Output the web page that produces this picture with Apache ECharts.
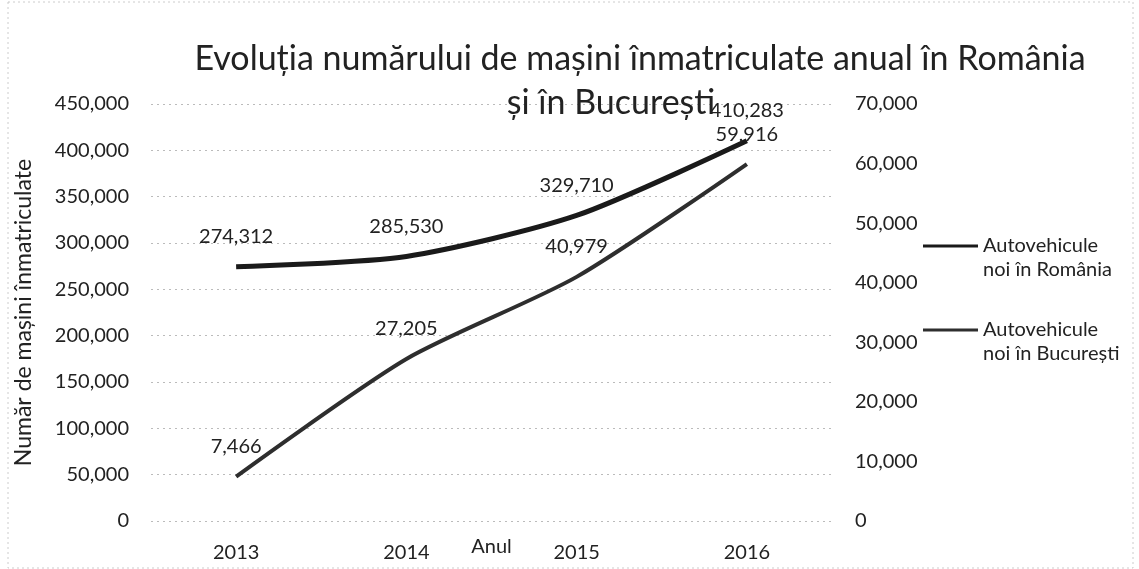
<!DOCTYPE html>
<html>
<head>
<meta charset="utf-8">
<script src="https://cdn.jsdelivr.net/npm/echarts@6/dist/echarts.min.js"></script>
<style>
  html, body { margin: 0; padding: 0; background: #fff; }
  #chart { width: 1139px; height: 569px; }
</style>
</head>
<body>
<div id="chart"></div>
<script>
// values
const years = ['2013', '2014', '2015', '2016'];
const romania = [274312, 285530, 329710, 410283];
const bucuresti = [7466, 27205, 40979, 59916];
const seriesNames = ['Autovehicule\nnoi în România', 'Autovehicule\nnoi în București'];

const font = 'Lato';
const chart = echarts.init(document.getElementById('chart'));

const fmt = v => v.toLocaleString('en-US');
const titleStyle = { fontFamily: font, fontSize: 34, fontWeight: 'normal', color: '#222' };
const tickStyle = { fontFamily: font, fontSize: 20, color: '#222' };

chart.setOption({
  backgroundColor: '#fff',
  animation: false,
  textStyle: { fontFamily: font, color: '#222' },
  title: [{
    text: 'Evoluția numărului de mașini înmatriculate anual în România',
    left: 635, top: 37, textAlign: 'center', textStyle: titleStyle
  }, {
    text: 'și în București',
    left: 606, top: 81, textAlign: 'center', textStyle: titleStyle
  }],
  legend: {
    orient: 'vertical',
    left: 918,
    top: 205,
    itemGap: 12,
    icon: 'rect',
    itemWidth: 55,
    itemHeight: 3,
    // a blank first line keeps the line marker level with "Autovehicule"
    formatter: name => ' \n' + name,
    textStyle: { fontFamily: font, fontSize: 20, color: '#222', lineHeight: 24 },
    data: seriesNames
  },
  graphic: [{
    type: 'rect',
    shape: { x: 8, y: 2, width: 1125, height: 566 },
    style: { fill: null, stroke: '#ccc', lineWidth: 1, lineDash: [2, 3] },
    silent: true
  }],
  grid: { left: 151, right: 307, top: 104, bottom: 48, outerBoundsMode: 'none', containLabel: false },
  xAxis: {
    type: 'category',
    data: years,
    name: 'Anul',
    nameLocation: 'middle',
    nameGap: 16,
    nameMoveOverlap: false,
    nameTextStyle: { fontFamily: font, fontSize: 20, color: '#222' },
    axisLine: { show: false },
    axisTick: { show: false },
    axisLabel: Object.assign({ margin: 22 }, tickStyle)
  },
  yAxis: [{
    type: 'value',
    min: 0,
    max: 450000,
    interval: 50000,
    name: 'Număr de mașini înmatriculate',
    nameLocation: 'middle',
    nameGap: 116,
    nameRotate: 90,
    nameTextStyle: { fontFamily: font, fontSize: 23, color: '#222' },
    axisLabel: Object.assign({ margin: 22, formatter: fmt }, tickStyle),
    splitLine: { lineStyle: { color: '#bbb', type: [2, 4], width: 1 } }
  }, {
    type: 'value',
    min: 0,
    max: 70000,
    interval: 10000,
    axisLabel: Object.assign({ margin: 23, formatter: fmt }, tickStyle),
    splitLine: { show: false }
  }],
  series: [{
    name: seriesNames[0],
    type: 'line',
    yAxisIndex: 0,
    data: romania,
    smooth: 0.25,
    symbol: 'circle',
    symbolSize: 0,
    color: '#1a1a1a',
    lineStyle: { width: 5, color: '#1a1a1a' },
    label: {
      show: true,
      position: 'top',
      distance: 20,
      formatter: p => fmt(p.value),
      fontFamily: font, fontSize: 20, color: '#222'
    }
  }, {
    name: seriesNames[1],
    type: 'line',
    yAxisIndex: 1,
    data: bucuresti,
    smooth: 0.25,
    symbol: 'circle',
    symbolSize: 0,
    color: '#2e2e2e',
    lineStyle: { width: 4, color: '#2e2e2e' },
    label: {
      show: true,
      position: 'top',
      distance: 20,
      formatter: p => fmt(p.value),
      fontFamily: font, fontSize: 20, color: '#222'
    }
  }]
});
</script>
</body>
</html>
